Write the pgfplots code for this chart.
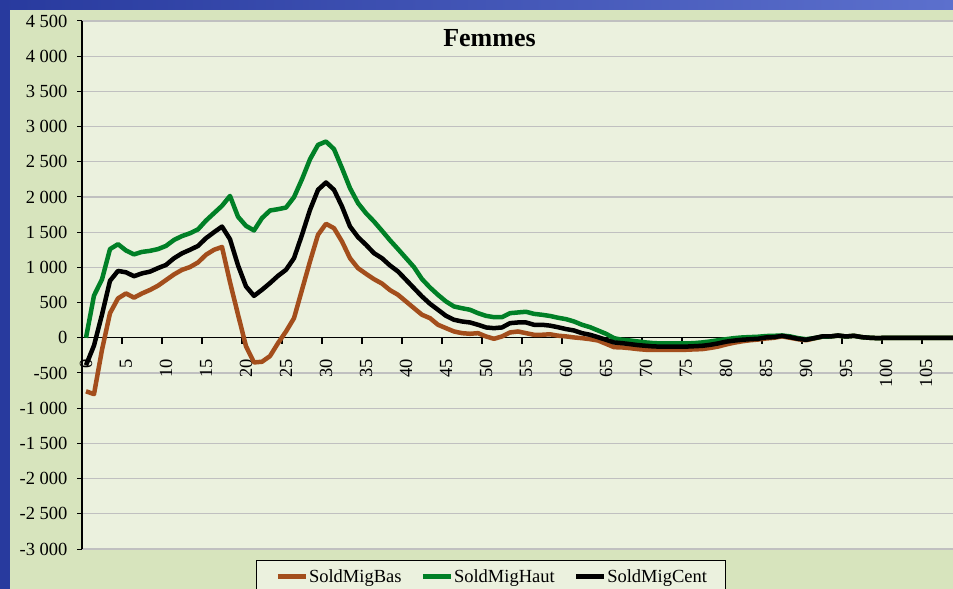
\documentclass[border=0pt]{standalone}
\usepackage{pgfplots}
\usepackage{pgfplotstable}
\pgfplotsset{compat=1.18}
\usepackage{fontspec}
\setmainfont{Liberation Serif}
\definecolor{plotbg}{RGB}{235,241,222}
\definecolor{panelbg}{RGB}{215,228,189}
\definecolor{gridgray}{RGB}{192,192,192}
\definecolor{bascol}{RGB}{163,78,28}
\definecolor{hautcol}{RGB}{0,128,38}
\definecolor{bluedark}{RGB}{40,58,158}
\definecolor{bluelight}{RGB}{92,112,205}
\newcommand{\tickfont}{\fontsize{18.5bp}{20bp}\selectfont}
\pgfplotstableread{
age bas haut cent
0 -760 0 -390
1 -800 600 -110
2 -170 830 330
3 350 1260 810
4 560 1330 950
5 630 1240 930
6 570 1185 875
7 630 1220 915
8 680 1235 940
9 740 1260 990
10 820 1305 1035
11 900 1390 1130
12 965 1445 1200
13 1005 1485 1250
14 1070 1540 1305
15 1180 1665 1415
16 1250 1770 1500
17 1290 1875 1580
18 790 2015 1400
19 330 1720 1030
20 -120 1590 730
21 -350 1525 596
22 -340 1700 682
23 -260 1808 777
24 -76 1827 880
25 90 1850 966
26 279 1997 1131
27 682 2253 1463
28 1084 2537 1818
29 1463 2740 2102
30 1619 2788 2206
31 1557 2680 2102
32 1368 2410 1865
33 1131 2126 1581
34 989 1913 1430
35 909 1770 1321
36 833 1652 1202
37 770 1520 1130
38 677 1385 1027
39 611 1260 942
40 516 1132 824
41 421 1004 705
42 327 834 587
43 279 714 483
44 185 610 398
45 137 516 312
46 90 445 256
47 66 420 232
48 57 398 218
49 66 350 185
50 19 312 147
51 -14 293 137
52 19 293 147
53 76 350 208
54 90 360 218
55 66 370 218
56 43 340 185
57 43 327 185
58 50 310 173
59 30 285 150
60 20 265 124
61 5 232 104
62 -5 185 66
63 -19 151 43
64 -38 104 9
65 -85 57 -28
66 -133 -5 -66
67 -137 -28 -76
68 -147 -38 -90
69 -161 -52 -104
70 -170 -66 -114
71 -170 -76 -123
72 -172 -80 -125
73 -172 -80 -125
74 -172 -80 -125
75 -170 -80 -125
76 -165 -76 -120
77 -161 -66 -114
78 -145 -52 -100
79 -125 -35 -80
80 -95 -20 -55
81 -70 -5 -40
82 -50 5 -28
83 -35 10 -20
84 -25 15 -14
85 -10 25 5
86 0 28 9
87 20 33 28
88 0 20 9
89 -20 -5 -14
90 -35 -20 -28
91 -10 -5 -5
92 15 15 19
93 19 19 19
94 30 30 33
95 19 19 19
96 28 28 28
97 9 9 9
98 0 0 0
99 -5 -5 -5
100 0 0 0
101 0 0 0
102 0 0 0
103 0 0 0
104 0 0 0
105 0 0 0
106 0 0 0
107 0 0 0
108 0 0 0
109 0 0 0
110 0 0 0
}\data
\begin{document}
\begin{tikzpicture}
\useasboundingbox (0,0) rectangle (953bp,589bp);
\clip (0,0) rectangle (953bp,589bp);
\shade[left color=bluedark, right color=bluelight] (0,0) rectangle (953bp,589bp);
\fill[panelbg] (10bp,0) rectangle (953bp,579bp);
\begin{axis}[
  at={(82bp,40bp)}, anchor=south west,
  scale only axis, width=871bp, height=528bp,
  xmin=-0.5, xmax=108.375, ymin=-3000, ymax=4500,
  axis y line=left, axis x line=middle,
  axis line style={-, black, line width=1.2bp},
  hide obscured x ticks=false, hide obscured y ticks=false,
  axis background/.style={fill=plotbg},
  ytick={-3000,-2500,...,4500},
  yticklabels={-3 000,-2 500,-2 000,-1 500,-1 000,-500,0,500,1 000,1 500,2 000,2 500,3 000,3 500,4 000,4 500},
  yticklabel style={font=\tickfont, xshift=-6bp},
  ymajorgrids, grid style={gridgray, line width=1.2bp},
  tick align=outside, major tick length=5bp,
  ytick style={black, line width=1bp},
  xtick={0,5,...,105},
  xticklabels={0,5,10,15,20,25,30,35,40,45,50,55,60,65,70,75,80,85,90,95,100,105},
  major x tick style={draw=none},
  xticklabel style={yshift=-13bp, rotate=90, anchor=east, font=\tickfont},
  legend style={at={(0.1998,-0.0208)}, anchor=north west, legend columns=3,
    draw=black, line width=1bp, fill=plotbg, font=\tickfont,
    inner xsep=19bp, inner ysep=7bp,
    nodes={inner xsep=0bp, inner ysep=2bp},
    /tikz/every odd column/.append style={column sep=1bp},
    /tikz/every even column/.append style={column sep=19bp}},
  legend image code/.code={\draw[#1, line width=4.5bp] (0bp,0bp) -- (28bp,0bp);},
  every axis plot/.append style={line width=4.5bp, line join=round, no markers},
]
\pgfplotsinvokeforeach{-0.5,4.5,...,104.5}{
  \draw[black, line width=1.5bp] (axis cs:#1,0) -- ([yshift=-6bp]axis cs:#1,0);
}
\addplot[bascol] table[x=age, y=bas] {\data};
\addlegendentry{SoldMigBas}
\addplot[hautcol] table[x=age, y=haut] {\data};
\addlegendentry{SoldMigHaut}
\addplot[black] table[x=age, y=cent] {\data};
\addlegendentry{SoldMigCent}
\end{axis}
\node[font=\fontsize{26bp}{28bp}\selectfont\bfseries, anchor=base] at (489.5bp,542bp) {Femmes};
\end{tikzpicture}
\end{document}
